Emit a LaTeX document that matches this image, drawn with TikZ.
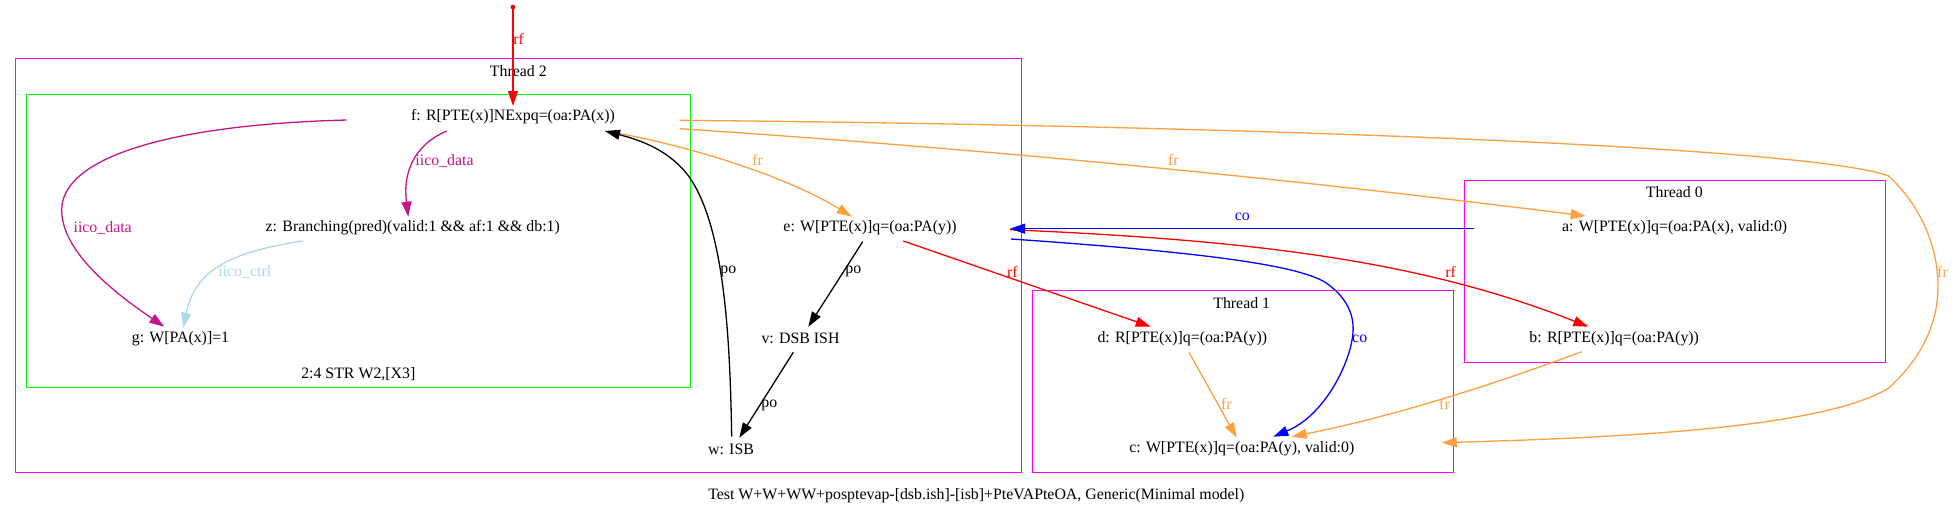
\documentclass[tikz,border=0pt]{standalone}
\usepackage{fontspec}
\setmainfont{Liberation Serif}
\usetikzlibrary{arrows.meta}
\definecolor{frc}{RGB}{255,160,64}
\definecolor{iicod}{RGB}{199,21,133}
\definecolor{iicoc}{RGB}{173,216,230}
\definecolor{mag}{RGB}{255,0,255}
\definecolor{grn}{RGB}{0,255,0}
\begin{document}
\begin{tikzpicture}[x=0.5pt,y=-0.5pt,
  every node/.style={font=\fontsize{7.93}{9}\selectfont, inner sep=0pt},
  conn/.style={line width=0.65pt, -{Triangle[length=7.5pt,width=5pt]}},
  cluster/.style={line width=0.55pt},
  rfe/.style={conn, red},
  fre/.style={conn, frc},
  coe/.style={conn, blue},
  poe/.style={conn, black},
  iicodata/.style={conn, iicod},
  iicoctrl/.style={conn, iicoc}]
\path[use as bounding box] (0,0) rectangle (1955,515);

% clusters
\draw[cluster, mag] (15.5,58.5) rectangle (1021.5,472.5);
\node (t2) at (518.3,70.7) {Thread 2};
\draw[cluster, grn] (26.5,94.5) rectangle (690.5,387.5);
\node (str) at (358.3,374.7) {2:4 STR W2,[X3]};
\draw[cluster, mag] (1032.5,290.5) rectangle (1453.5,472.5);
\node (t1) at (1241.7,302.7) {Thread 1};
\draw[cluster, mag] (1464.5,180.5) rectangle (1885.5,362.5);
\node (t0) at (1674.3,191.7) {Thread 0};

% event nodes
\node (f) at (513,116.7) {f: R[PTE(x)]NExpq=(oa:PA(x))};
\node (z) at (412.8,227.7) {z: Branching(pred)(valid:1 \&\& af:1 \&\& db:1)};
\node (g) at (180.5,338.7) {g: W[PA(x)]=1};
\node (e) at (870,227.7) {e: W[PTE(x)]q=(oa:PA(y))};
\node (v) at (800.5,338.7) {v: DSB ISH};
\node (w) at (731,449) {w: ISB};
\node (d) at (1182.3,338.7) {d: R[PTE(x)]q=(oa:PA(y))};
\node (c) at (1241.8,449) {c: W[PTE(x)]q=(oa:PA(y), valid:0)};
\node (a) at (1674.7,227.7) {a: W[PTE(x)]q=(oa:PA(x), valid:0)};
\node (b) at (1614.2,338.7) {b: R[PTE(x)]q=(oa:PA(y))};
\fill[red] (513,7) circle[radius=1.2pt];
\coordinate (init) at (513,7);

\node (cap) at (976.3,495.7) {Test W+W+WW+posptevap-[dsb.ish]-[isb]+PteVAPteOA, Generic(Minimal model)};

% init -> f
\draw[rfe] (init) -- ([shift={(0,-10.7)}]f.center);
\node[red] (l1) at (518.7,39.3) {rf};

% f -> z iico_data
\draw[iicodata] ([shift={(-66.3,14.3)}]f.center) .. controls (412,146) and (403,175) .. ([shift={(-4.5,-11)}]z.center);
\node[iicod] (l2) at (444.5,160.7) {iico\_data};

% f -> g iico_data
\draw[iicodata] ([shift={(-166.3,3.3)}]f.center) .. controls (160,125) and (61.7,160) .. (61.7,210) .. controls (61.7,250) and (110,290) .. ([shift={(-16.2,-12)}]g.center);
\node[iicod] (l3) at (102.7,227.7) {iico\_data};

% z -> g iico_ctrl
\draw[iicoctrl] ([shift={(-109.5,13.3)}]z.center) .. controls (230,252) and (195,270) .. ([shift={(2.8,-11)}]g.center);
\node[iicoc] (l4) at (244.8,271.7) {iico\_ctrl};

% f -> e fr
\draw[fre] ([shift={(92,14.3)}]f.center) .. controls (690,145) and (790,178) .. ([shift={(-18.3,-11)}]e.center);
\node[frc] (l5) at (757.7,160) {fr};

% w -> f po
\draw[poe] ([shift={(0.7,-12.3)}]w.center) .. controls (730,340) and (725,230) .. (690,178) .. controls (670,150) and (640,140) .. ([shift={(92,14.3)}]f.center);
\node (l6) at (728.3,271.7) {po};

% e -> v po
\draw[poe] ([shift={(-7.3,14)}]e.center) -- ([shift={(7.8,-12)}]v.center);
\node (l7) at (853.3,271.7) {po};

% v -> w po
\draw[poe] ([shift={(-7.2,13.6)}]v.center) -- ([shift={(8.3,-11.3)}]w.center);
\node (l8) at (769.3,405) {po};

% e -> d rf
\draw[rfe] ([shift={(33.3,13.3)}]e.center) -- ([shift={(-31.6,-12)}]d.center);
\node[red] (l9) at (1012.3,271.7) {rf};

% e -> b rf
\draw[rfe] ([shift={(140,2)}]e.center) .. controls (1250,240) and (1420,260) .. ([shift={(-25.9,-12)}]b.center);
\node[red] (l10) at (1450.7,271.7) {rf};

% a -> e co
\draw[coe] ([shift={(-200.4,1)}]a.center) -- ([shift={(140,1)}]e.center);
\node[blue] (l11) at (1242.3,216.7) {co};

% e -> c co
\draw[coe] ([shift={(141,11.3)}]e.center) .. controls (1200,252) and (1300,265) .. (1326.7,283.3) .. controls (1350,300) and (1356,320) .. (1352,340) .. controls (1348,365) and (1325,415) .. ([shift={(31.5,-12.3)}]c.center);
\node[blue] (l12) at (1359.7,339) {co};

% d -> c fr
\draw[fre] ([shift={(6.7,13.6)}]d.center) -- ([shift={(-5.1,-11.3)}]c.center);
\node[frc] (l13) at (1226.3,404.3) {fr};

% b -> c fr
\draw[fre] ([shift={(-32.5,13)}]b.center) .. controls (1500,382) and (1400,415) .. ([shift={(49.9,-12.3)}]c.center);
\node[frc] (l14) at (1444.5,404.3) {fr};

% f -> a fr
\draw[fre] ([shift={(167,12)}]f.center) .. controls (1000,150) and (1300,180) .. ([shift={(-89,-11.7)}]a.center);
\node[frc] (l15) at (1173.3,160) {fr};

% f -> c fr (long, around the right)
\draw[fre] ([shift={(167,3.6)}]f.center) .. controls (1200,125) and (1800,145) .. (1888.3,175.7) .. controls (1920,205) and (1938,245) .. (1938,286.7) .. controls (1938,325) and (1920,360) .. (1888.3,388.3) .. controls (1820,430) and (1600,438) .. ([shift={(199.9,-6.3)}]c.center);
\node[frc] (l16) at (1942.5,271.7) {fr};
\end{tikzpicture}
\end{document}
